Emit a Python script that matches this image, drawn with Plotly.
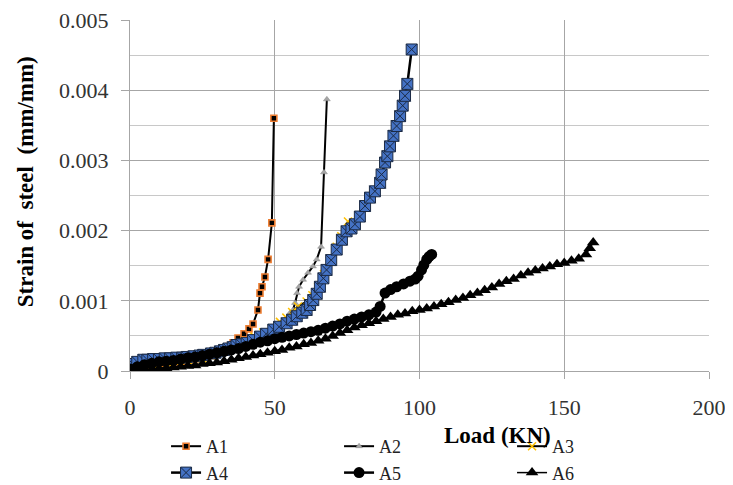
import plotly.graph_objects as go

# ---------------- data ----------------
a1_load = [0, 2, 4, 6, 8, 10, 12, 14, 16, 18, 20, 22, 24, 26, 28, 30, 32, 34, 35.6, 37.3,
           39.4, 41.1, 42.5, 44.2, 44.9, 45.6, 46.6, 47.7, 49.0, 49.7]
a1_strain = [0.00002, 0.00004, 0.00006, 0.00008, 0.00009, 0.0001, 0.00011, 0.00012, 0.00013, 0.00014,
             0.00015, 0.00016, 0.00018, 0.0002, 0.00022, 0.00025, 0.0003, 0.00035, 0.0004, 0.00047,
             0.00053, 0.0006, 0.00067, 0.00087, 0.00111, 0.0012, 0.00134, 0.00159, 0.00211, 0.0036]

a2_load = [0, 3, 6, 9, 12, 15, 18, 21, 24, 27, 30, 33, 36, 39, 42, 45, 48, 50, 52, 54,
           55.3, 56.3, 57, 57.7, 58.4, 59.8, 61.5, 63.2, 64.5, 66.0, 67.0, 68.0]
a2_strain = [0.00002, 0.00005, 0.00008, 0.0001, 0.00012, 0.00013, 0.00014, 0.00016, 0.00018, 0.0002,
             0.00024, 0.00029, 0.00034, 0.00039, 0.00044, 0.0005, 0.00056, 0.0006, 0.00066, 0.00074,
             0.00083, 0.00087, 0.00097, 0.00111, 0.0012, 0.0013, 0.0014, 0.00149, 0.00159, 0.00177,
             0.00283, 0.00387]

a3_load = [0, 2, 4, 6, 8, 10, 13, 16, 19, 22, 25, 28, 31, 34, 37, 40, 43, 46, 49, 51.8,
           54, 56, 58, 61, 63, 65, 67, 69, 71.4, 73, 75.3]
a3_strain = [0.00002, 0.00004, 0.00006, 0.00007, 0.00008, 0.00009, 0.00011, 0.00012, 0.00013, 0.00015,
             0.00018, 0.00022, 0.00027, 0.00032, 0.00038, 0.00043, 0.00049, 0.00055, 0.0006, 0.0007,
             0.00076, 0.00084, 0.00092, 0.00099, 0.00108, 0.0012, 0.00138, 0.00157, 0.00177, 0.00192,
             0.00213]

a4_load = [0, 1, 2.5, 4.6, 6, 8, 10, 12, 13.8, 16, 18, 19.6, 22, 24, 25.3, 28, 29.5, 31.1, 32.5, 34,
           35.5, 36.8, 38.5, 40.3, 42.5, 44.9, 47, 49.5, 51.5, 54.1, 56, 57.6, 59.5, 61, 62.2, 63.3,
           64.5, 65.6, 66.8, 67.9, 69.5, 71.4, 73.2, 74.8, 76.5, 77.7, 79.4, 81.2, 82.9, 84.6, 86.4,
           86.9, 88.1, 88.9, 89.8, 91, 92.1, 93.3, 94.2, 95, 95.8, 97.3]
a4_strain = [0.00006, 0.0001, 0.00013, 0.00016, 0.00016, 0.00017, 0.00017, 0.00018, 0.00018, 0.00019,
             0.00019, 0.0002, 0.00021, 0.00022, 0.00023, 0.00025, 0.00026, 0.00028, 0.0003, 0.00032,
             0.00034, 0.00037, 0.00038, 0.0004, 0.00044, 0.00049, 0.00053, 0.00059, 0.00063, 0.00068,
             0.00073, 0.00078, 0.00083, 0.00087, 0.00094, 0.00101, 0.0011, 0.0012, 0.00132, 0.00144,
             0.00158, 0.00173, 0.00187, 0.00199, 0.00203, 0.00209, 0.0022, 0.00235, 0.00247, 0.00256,
             0.00268, 0.0028, 0.00297, 0.00306, 0.0032, 0.00335, 0.00349, 0.00363, 0.00378, 0.00392,
             0.00409, 0.00458]

a5_load = [0, 2.5, 5, 7.5, 10, 12.5, 15, 17.5, 20, 22.5, 25, 27.5, 30, 32.5, 35, 37.5, 40, 42.5,
           45, 47.5, 50, 52.5, 55, 57.5, 60, 62.5, 65, 67.5, 70, 72.5, 75, 77.5, 80, 82.5, 85, 86.4,
           88.1, 90, 92.1, 94.5, 96.7, 98.5, 99.5, 100.7, 101.5, 102.5, 103.3, 104.2]
a5_strain = [0.00003, 0.00006, 0.00009, 0.00011, 0.00013, 0.00014, 0.00015, 0.00017, 0.00019, 0.0002,
             0.00022, 0.00024, 0.00026, 0.00028, 0.0003, 0.00032, 0.00035, 0.00038, 0.00041, 0.00043,
             0.00046, 0.00048, 0.0005, 0.00052, 0.00054, 0.00056, 0.00058, 0.00061, 0.00064, 0.00067,
             0.00071, 0.00074, 0.00077, 0.0008, 0.00084, 0.00092, 0.00111, 0.00116, 0.0012, 0.00124,
             0.00128, 0.00131, 0.00135, 0.00144, 0.00151, 0.00159, 0.00163, 0.00166]

a6_load = [0, 2.5, 5, 7.5, 10, 12.5, 15, 17.5, 20, 22.5, 25, 27.5, 30, 32.5, 35, 37.5, 40, 42.5,
           45, 47.5, 50, 52.5, 55, 57.5, 60, 62.5, 65, 67.5, 70, 72.5, 75, 77.5, 80, 82.5, 85, 87.5,
           90, 92.5, 95, 97.5, 100, 102.5, 105, 107.5, 110, 112.5, 115, 117.5, 120, 122.5, 125, 127.5,
           130, 132.5, 135, 137.5, 140, 142.5, 145, 147.5, 150, 152.5, 155, 157.5, 158.8, 160]
a6_strain = [0.0, 0.00001, 0.00001, 0.00002, 0.00003, 0.00004, 0.00005, 0.00006, 0.00007, 0.00008,
             0.0001, 0.00011, 0.00012, 0.00014, 0.00016, 0.00018, 0.0002, 0.00022, 0.00024, 0.00026,
             0.00028, 0.0003, 0.00033, 0.00035, 0.00038, 0.0004, 0.00043, 0.00046, 0.0005, 0.00054,
             0.00058, 0.00062, 0.00065, 0.00068, 0.00071, 0.00074, 0.00077, 0.0008, 0.00082, 0.00085,
             0.00087, 0.00089, 0.00092, 0.00095, 0.00098, 0.00101, 0.00104, 0.00108, 0.00111, 0.00115,
             0.00119, 0.00124, 0.00128, 0.00131, 0.00136, 0.0014, 0.00143, 0.00146, 0.00149, 0.00152,
             0.00154, 0.00157, 0.0016, 0.00166, 0.00175, 0.00183]

y_ticks = [0, 0.001, 0.002, 0.003, 0.004, 0.005]
y_tick_labels = ["0", "0.001", "0.002", "0.003", "0.004", "0.005"]
x_ticks = [0, 50, 100, 150, 200]
x_tick_labels = ["0", "50", "100", "150", "200"]

FONT = "Liberation Serif, Times New Roman, serif"
GRID = "#a6a6a6"

fig = go.Figure()

fig.add_trace(go.Scatter(x=a1_load, y=a1_strain, name="A1", mode="lines+markers",
                         line=dict(color="black", width=2),
                         marker=dict(symbol="square", size=6, color="black",
                                     line=dict(color="#ED7D31", width=1.6))))
fig.add_trace(go.Scatter(x=a2_load, y=a2_strain, name="A2", mode="lines+markers",
                         line=dict(color="black", width=2),
                         marker=dict(symbol="triangle-up", size=6, color="#A5A5A5",
                                     line=dict(color="#8a8a8a", width=0.5))))
fig.add_trace(go.Scatter(x=a3_load, y=a3_strain, name="A3", mode="lines+markers",
                         line=dict(color="black", width=2),
                         marker=dict(symbol="x-thin", size=8, color="#FFC000",
                                     line=dict(color="#FFC000", width=1.5))))
fig.add_trace(go.Scatter(x=a4_load, y=a4_strain, name="A4", mode="lines+markers",
                         line=dict(color="black", width=2.5),
                         marker=dict(symbol="square-x", size=11, color="#4472C4",
                                     line=dict(color="#1b2a44", width=1))))
fig.add_trace(go.Scatter(x=a5_load, y=a5_strain, name="A5", mode="lines+markers",
                         line=dict(color="black", width=2.5),
                         marker=dict(symbol="circle", size=11, color="black")))
fig.add_trace(go.Scatter(x=a6_load, y=a6_strain, name="A6", mode="lines+markers",
                         line=dict(color="black", width=1.5),
                         marker=dict(symbol="triangle-up", size=11, color="black")))

# The page body adds an 8px offset, so the figure is sized 725x477 to fill the 733x485 window.
fig.update_layout(
    width=725, height=477,
    margin=dict(l=122, r=24, t=12, b=114),
    paper_bgcolor="white", plot_bgcolor="white",
    font=dict(family=FONT, size=20, color="#333333"),
    showlegend=True,
    legend=dict(orientation="h", xref="container", yref="container",
                x=0.218, xanchor="left", y=0.1195, yanchor="top",
                font=dict(family=FONT, size=18, color="#222222"),
                entrywidth=128, traceorder="normal", bgcolor="rgba(0,0,0,0)",
                tracegroupgap=0),
    annotations=[
        dict(text="Load (KN)", xref="paper", yref="paper", x=0.634, y=-0.183,
             xanchor="center", yanchor="middle", showarrow=False,
             font=dict(family=FONT, size=23, color="black", weight="bold")),
        dict(text="Strain of  steel  (mm/mm)", xref="paper", yref="paper", x=-0.18, y=0.54,
             xanchor="center", yanchor="middle", textangle=-90, showarrow=False,
             font=dict(family=FONT, size=23, color="black", weight="bold")),
    ],
)

fig.update_xaxes(range=[0, 200], tickvals=x_ticks, ticktext=x_tick_labels,
                 showgrid=True, gridcolor=GRID, gridwidth=1.3,
                 showline=True, linecolor=GRID, linewidth=1.3,
                 ticks="outside", ticklen=7, tickcolor=GRID, tickwidth=1.3,
                 ticklabelstandoff=9, automargin=False, ticklabeloverflow="allow",
                 zeroline=False, tickfont=dict(family=FONT, size=22, color="#333333"))
fig.update_yaxes(range=[0, 0.005], tickvals=y_ticks, ticktext=y_tick_labels,
                 showgrid=True, gridcolor=GRID, gridwidth=1.3,
                 showline=True, linecolor=GRID, linewidth=1.3,
                 ticks="outside", ticklen=8, tickcolor=GRID, tickwidth=1.3,
                 ticklabelstandoff=8, automargin=False, ticklabeloverflow="allow",
                 zeroline=False, tickfont=dict(family=FONT, size=22, color="#333333"),
                 minor=dict(dtick=0.0005, showgrid=True, gridcolor="#c8c8c8", gridwidth=1.2,
                            ticks=""))

fig.write_html("out.html")
